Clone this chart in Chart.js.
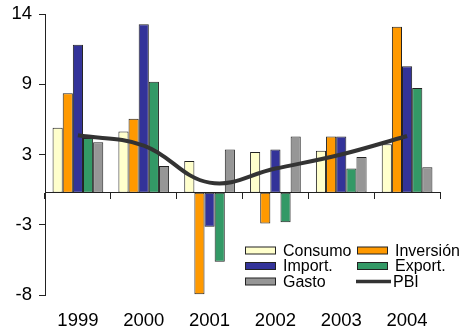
<!DOCTYPE html>
<html>
<head>
<meta charset="utf-8">
<script src="https://cdn.jsdelivr.net/npm/chart.js@4.4.1/dist/chart.umd.min.js"></script>
<style>
  html, body { margin: 0; padding: 0; background: #ffffff; }
  #wrap { width: 462px; height: 332px; }
</style>
</head>
<body>
<div id="wrap"><canvas id="chart" width="462" height="332"></canvas></div>
<script>
// Annual growth rates (%) by demand component
const years     = ['1999', '2000', '2001', '2002', '2003', '2004'];
const consumo   = [5.1, 4.8, 2.5, 3.2, 3.3, 3.8];
const inversion = [7.8, 5.8, -7.95, -2.4, 4.4, 13.0];
const importes  = [11.6, 13.2, -2.65, 3.4, 4.4, 9.9];
const exportes  = [4.3, 8.7, -5.4, -2.3, 1.9, 8.2];
const gasto     = [3.95, 2.1, 3.4, 4.4, 2.8, 2.0];
const pbi       = [4.5, 3.7, 0.8, 1.9, 3.0, 4.45];

// Value axis: -8 to 14 in steps of 5.5 (labels shown rounded)
const yRange = [-8, 14];
const yStep = 5.5;

const FONT = '"Liberation Sans", Arial, sans-serif';
const AXIS = '#222222';

const barStyle = { borderColor: AXIS, borderWidth: 1, borderSkipped: false };

// Two-column legend placed in the lower right of the plot
const boxLegend = {
  id: 'boxLegend',
  afterDraw(chart) {
    const ctx = chart.ctx;
    const x0 = 245, y0 = 250.5, colW = 112, rowH = 15.5;
    ctx.save();
    ctx.font = '16px ' + FONT;
    ctx.textBaseline = 'middle';
    chart.data.datasets.forEach((d, i) => {
      const x = x0 + (i % 2) * colW;
      const y = y0 + Math.floor(i / 2) * rowH;
      if (d.type === 'line') {
        ctx.strokeStyle = d.borderColor;
        ctx.lineWidth = 3.5;
        ctx.beginPath();
        ctx.moveTo(x - 1, y);
        ctx.lineTo(x + 34, y);
        ctx.stroke();
      } else {
        ctx.fillStyle = d.backgroundColor;
        ctx.fillRect(x, y - 3.5, 30, 7);
        ctx.strokeStyle = AXIS;
        ctx.lineWidth = 1;
        ctx.strokeRect(x + 0.5, y - 3.5, 30, 7);
      }
      ctx.fillStyle = '#000000';
      ctx.fillText(d.label, d.type === 'line' ? x + 36 : x + 38, y + 1);
    });
    ctx.restore();
  }
};

new Chart(document.getElementById('chart'), {
  type: 'bar',
  data: {
    labels: years,
    datasets: [
      { label: 'Consumo',   data: consumo,   backgroundColor: '#FFFFCC', ...barStyle },
      { label: 'Inversión', data: inversion, backgroundColor: '#FF9900', ...barStyle },
      { label: 'Import.',   data: importes,  backgroundColor: '#333399', ...barStyle },
      { label: 'Export.',   data: exportes,  backgroundColor: '#339966', ...barStyle },
      { label: 'Gasto',     data: gasto,     backgroundColor: '#969696', ...barStyle },
      { label: 'PBI', type: 'line', data: pbi, borderColor: '#333333', borderWidth: 4,
        pointRadius: 0, tension: 0.4, fill: false, order: -1 }
    ]
  },
  options: {
    responsive: false,
    animation: false,
    devicePixelRatio: 1,
    layout: { padding: { top: 14, right: 22, left: 0, bottom: 0 } },
    datasets: { bar: { categoryPercentage: 0.77, barPercentage: 1.0 } },
    plugins: { legend: { display: false }, tooltip: { enabled: false } },
    scales: {
      x: {
        type: 'category',
        position: 'bottom',
        offset: true,
        grid: { display: false, drawTicks: false },
        border: { display: false },
        ticks: { color: '#000000', font: { family: FONT, size: 18.5 }, padding: 15, maxRotation: 0 },
        afterFit(scale) { scale.height = 37; scale.paddingLeft = 0; scale.paddingRight = 0; }
      },
      xZero: {
        type: 'category',
        position: { y: 0 },
        offset: true,
        grid: { display: true, offset: true, drawOnChartArea: false, drawTicks: true,
                tickLength: 6, color: AXIS, lineWidth: 1 },
        border: { display: true, color: AXIS, width: 1 },
        ticks: { display: false },
        afterFit(scale) { scale.height = 0; scale.paddingLeft = 0; scale.paddingRight = 0; }
      },
      y: {
        position: 'left',
        min: yRange[0],
        max: yRange[1],
        grid: { display: true, drawOnChartArea: false, drawTicks: true, tickLength: 6,
                color: AXIS, lineWidth: 1 },
        border: { display: true, color: AXIS, width: 1 },
        ticks: {
          stepSize: yStep,
          color: '#000000',
          font: { family: FONT, size: 18.5 },
          padding: 7,
          callback: (v) => String(Math.sign(v) * Math.round(Math.abs(v)))
        },
        afterFit(scale) { scale.width = 45; scale.paddingTop = 0; scale.paddingBottom = 0; }
      }
    }
  },
  plugins: [boxLegend]
});
</script>
</body>
</html>
